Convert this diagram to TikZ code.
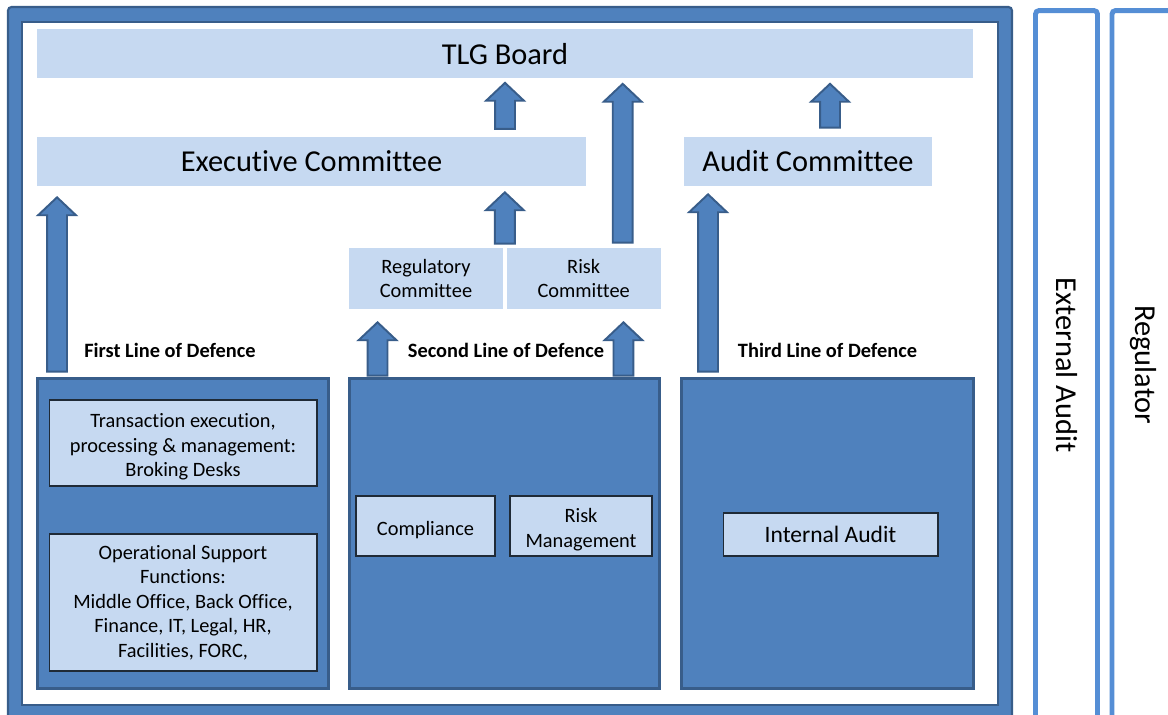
\documentclass[tikz,border=0pt]{standalone}
\usepackage{fontspec}
\setmainfont{Carlito}[Ligatures={NoCommon}]
\usetikzlibrary{positioning,calc}

\definecolor{boxblue}{HTML}{4F81BD}
\definecolor{edgeblue}{HTML}{385D8A}
\definecolor{paleblue}{HTML}{C6D9F1}
\definecolor{sideblue}{HTML}{558ED5}
\definecolor{inkline}{HTML}{1F2A36}

\newcommand{\bigtext}{\fontsize{17.3}{20.8}\selectfont}
\newcommand{\smalltext}{\fontsize{11.6}{13.9}\selectfont}
\newcommand{\lowstrut}{\rule{0pt}{12.4pt}}

% fat upward arrow from #1 (foot) to #2 (tip)
\newcommand{\blockup}[2]{%
  \draw[blockarrow] let \p1=#1, \p2=#2 in
    (\x1-5.67pt,\y1) -- (\x1-5.67pt,\y2-10.2pt) -- (\x1-10.8pt,\y2-10.2pt)
    -- (\x1,\y2) -- (\x1+10.8pt,\y2-10.2pt) -- (\x1+5.67pt,\y2-10.2pt)
    -- (\x1+5.67pt,\y1) -- cycle;}

\begin{document}
\begin{tikzpicture}[x=0.02cm,y=-0.02cm,
  titlebox/.style={fill=paleblue,minimum height=0.98cm,inner sep=0pt,font=\bigtext},
  combox/.style={fill=paleblue,minimum width=3.08cm,minimum height=1.22cm,align=center,inner sep=0pt,font=\smalltext},
  linebox/.style={fill=boxblue,draw=edgeblue,line width=1.7pt,minimum height=6.22cm,inner sep=0pt},
  unitbox/.style={fill=paleblue,draw=inkline,line width=0.6pt,align=center,inner sep=0pt,font=\smalltext},
  linelabel/.style={font=\smalltext\bfseries},
  sidebox/.style={draw=sideblue,line width=2.8pt,rounded corners=2pt,rotate=-90,minimum width=14.18cm,minimum height=1.24cm,font=\bigtext},
  blockarrow/.style={fill=boxblue,draw=edgeblue,line width=1.1pt}]
    \useasboundingbox (0,0) rectangle (1168,715);

    % company frame
    \draw[fill=boxblue,draw=edgeblue,line width=1.2pt,rounded corners=2pt] (8,7) rectangle (1012,724);
    \draw[fill=white,draw=edgeblue,line width=1.2pt] (22,22) rectangle (998,705);

    % committees
    \node[titlebox,minimum width=18.72cm] (tlg_board) at (505,54) {TLG Board};
    \node[titlebox,minimum width=10.98cm] (exec_com) at (311.5,161.5) {Executive Committee};
    \node[titlebox,minimum width=4.96cm] (audit_com) at (808,161.5) {Audit Committee};
    \node[combox] (reg_com) at (426,278.5) {Regulatory\\Committee};
    \node[combox] (risk_com) [right=0.06cm of reg_com] {Risk\\Committee};

    % lines of defence
    \node[linebox,minimum width=5.84cm] (first_line) at (183,533.5) {};
    \node[linebox,minimum width=6.22cm] (second_line) at (504.5,533.5) {};
    \node[linebox,minimum width=5.86cm] (third_line) at (827.5,533.5) {};
    \node[linelabel] (first_lbl) at (170,350) {First Line of Defence};
    \node[linelabel] (second_lbl) at (506,350) {Second Line of Defence};
    \node[linelabel] (third_lbl) at (827.5,350) {Third Line of Defence};

    \node[unitbox,minimum width=5.36cm,minimum height=1.72cm] (broking) at (183,443)
        {\lowstrut Transaction execution,\\processing \& management:\\Broking Desks};
    \node[unitbox,minimum width=5.36cm,minimum height=2.74cm] (op_support) at (183,602.5)
        {Operational Support\\Functions:\\Middle Office, Back Office,\\Finance, IT, Legal, HR,\\Facilities, FORC,};
    \node[unitbox,minimum width=2.78cm,minimum height=1.2cm] (compliance) at (425.5,526) {\lowstrut Compliance};
    \node[unitbox,minimum width=2.84cm,minimum height=1.2cm] (risk_mgmt) at (581,526) {\lowstrut Risk\\Management};
    \node[unitbox,minimum width=4.3cm,minimum height=0.86cm,font=\fontsize{13.4}{16}\selectfont] (int_audit) at (830.5,534.5) {Internal Audit};

    % outside bodies
    \node[sidebox] (ext_audit) at (1066.5,365) {External Audit};
    \node[sidebox] (regulator) at (1143,365) {Regulator};

    % reporting arrows
    \blockup{($(tlg_board.south)+(0,50)$)}{($(tlg_board.south)+(0,4)$)}
    \blockup{($(risk_com.north)+(39,-5)$)}{($(risk_com.north |- tlg_board.south)+(39,5)$)}
    \blockup{($(audit_com.north)+(22,-9)$)}{($(audit_com.north |- tlg_board.south)+(22,5)$)}
    \blockup{($(reg_com.north east)+(1.5,-4)$)}{($(reg_com.north east |- exec_com.south)+(1.5,6)$)}
    \blockup{($(first_line.north west)+(21.5,-5)$)}{($(first_line.north west |- exec_com.south)+(21.5,11)$)}
    \blockup{($(third_line.north west)+(28.5,-5)$)}{($(third_line.north west |- audit_com.south)+(28.5,8)$)}
    \blockup{($(second_line.north west)+(30,-1)$)}{($(second_line.north west |- reg_com.south)+(30,13)$)}
    \blockup{($(second_line.north east)+(-38,-1)$)}{($(second_line.north east |- risk_com.south)+(-38,13)$)}
\end{tikzpicture}
\end{document}
